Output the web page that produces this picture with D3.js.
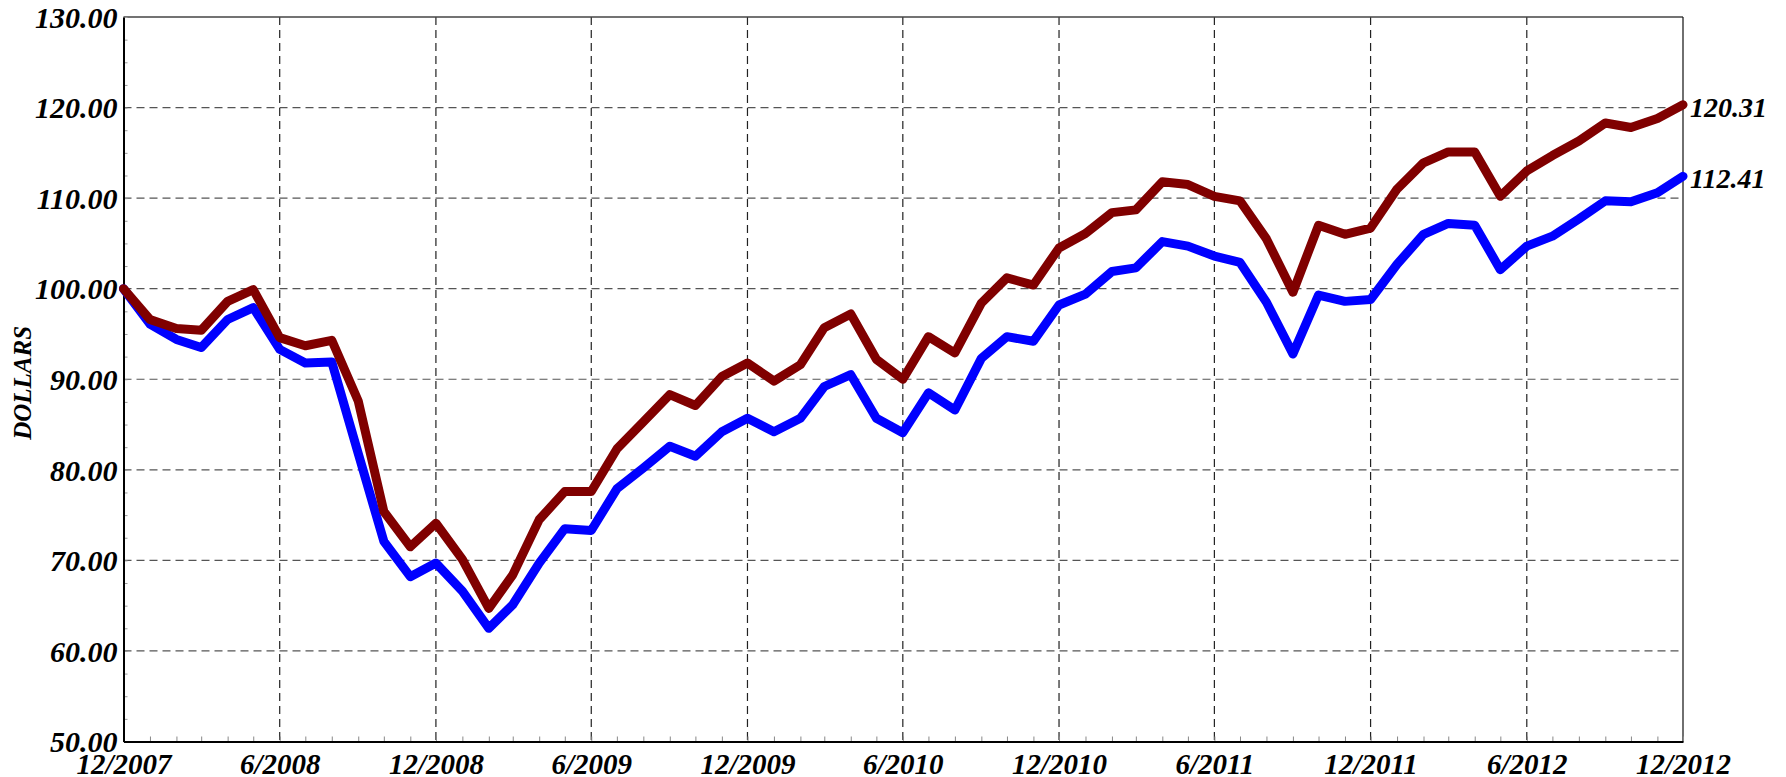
<!DOCTYPE html>
<html>
<head>
<meta charset="utf-8">
<script src="https://cdn.jsdelivr.net/npm/d3@7"></script>
<style>
  html, body { margin: 0; padding: 0; background: #fff; }
  svg { display: block; }
  text { font-family: "Liberation Serif", "Times New Roman", serif; font-weight: bold; font-style: italic; fill: #000; }
</style>
</head>
<body>
<div id="chart"></div>
<script>
// monthly values, 12/2007 .. 12/2012
const startMonth = "2007-12";
const redSeries = [
  100.0, 96.6, 95.6, 95.4, 98.6, 99.9, 94.6, 93.7, 94.3, 87.6,
  75.4, 71.5, 74.1, 70.1, 64.7, 68.4, 74.5, 77.6, 77.6, 82.3,
  85.3, 88.3, 87.1, 90.3, 91.8, 89.8, 91.6, 95.7, 97.2, 92.2,
  90.0, 94.7, 92.9, 98.4, 101.2, 100.4, 104.5, 106.1, 108.4, 108.7,
  111.8, 111.5, 110.2, 109.7, 105.5, 99.6, 107.0, 106.0, 106.7, 111.0,
  113.9, 115.1, 115.1, 110.2, 113.0, 114.7, 116.3, 118.3, 117.8, 118.8,
  120.31
];
const blueSeries = [
  100.0, 96.1, 94.4, 93.5, 96.6, 97.9, 93.3, 91.8, 91.9, 81.8,
  72.1, 68.2, 69.7, 66.6, 62.5, 65.1, 69.7, 73.5, 73.3, 77.9,
  80.2, 82.6, 81.5, 84.2, 85.7, 84.2, 85.7, 89.2, 90.5, 85.7,
  84.1, 88.5, 86.6, 92.3, 94.7, 94.2, 98.2, 99.4, 101.9, 102.3,
  105.2, 104.7, 103.6, 102.9, 98.5, 92.8, 99.3, 98.6, 98.8, 102.7,
  106.0, 107.2, 107.0, 102.1, 104.7, 105.8, 107.7, 109.7, 109.6, 110.6,
  112.41
];
const xTickLabels = ["12/2007", "6/2008", "12/2008", "6/2009", "12/2009", "6/2010",
  "12/2010", "6/2011", "12/2011", "6/2012", "12/2012"];
const yTicks = [50, 60, 70, 80, 90, 100, 110, 120, 130];
const yTitle = "DOLLARS";

const WIDTH = 1786, HEIGHT = 777;
const margin = { top: 17, right: 103, bottom: 35.5, left: 123.5 };
const innerW = WIDTH - margin.left - margin.right;
const innerH = HEIGHT - margin.top - margin.bottom;

const parseMonth = d3.timeParse("%Y-%m");
const parseLabel = d3.timeParse("%m/%Y");
const t0 = parseMonth(startMonth);
const dates = redSeries.map((d, i) => d3.timeMonth.offset(t0, i));
const tickDates = xTickLabels.map(parseLabel);

const svg = d3.select("#chart").append("svg")
  .attr("width", WIDTH)
  .attr("height", HEIGHT);

const g = svg.append("g").attr("transform", `translate(${margin.left},${margin.top})`);

const x = d3.scaleTime().domain([dates[0], dates[dates.length - 1]]).range([0, innerW]);
const y = d3.scaleLinear().domain([50, 130]).range([innerH, 0]);

// grid
g.append("g")
  .selectAll("line")
  .data(yTicks.slice(1, -1))
  .join("line")
  .attr("x1", 0).attr("x2", innerW)
  .attr("y1", d => y(d)).attr("y2", d => y(d))
  .attr("stroke", "#555").attr("stroke-width", 1.2)
  .attr("stroke-dasharray", "8,5");

g.append("g")
  .selectAll("line")
  .data(tickDates.slice(1, -1))
  .join("line")
  .attr("x1", d => x(d)).attr("x2", d => x(d))
  .attr("y1", 0).attr("y2", innerH)
  .attr("stroke", "#222").attr("stroke-width", 1.2)
  .attr("stroke-dasharray", "8,5");

// frame top/right
g.append("line").attr("x1", 0).attr("x2", innerW).attr("y1", 0).attr("y2", 0)
  .attr("stroke", "#444").attr("stroke-width", 1.3);
g.append("line").attr("x1", innerW).attr("x2", innerW).attr("y1", 0).attr("y2", innerH)
  .attr("stroke", "#222").attr("stroke-width", 1.3);

// minor ticks
const minorX = d3.timeMonth.range(dates[0], d3.timeMonth.offset(dates[dates.length - 1], 1));
g.append("g").attr("transform", `translate(0,${innerH})`)
  .call(d3.axisBottom(x).tickValues(minorX).tickSize(-5).tickFormat(""))
  .call(a => a.select(".domain").remove())
  .call(a => a.selectAll("line").attr("stroke", "#888"));

g.append("g")
  .call(d3.axisLeft(y).tickValues(d3.range(50, 130.1, 2.5)).tickSize(-4).tickFormat(""))
  .call(a => a.select(".domain").remove())
  .call(a => a.selectAll("line").attr("stroke", "#999"));

// axes
const yAxis = g.append("g")
  .call(d3.axisLeft(y).tickValues(yTicks).tickSize(0).tickPadding(6).tickFormat(d3.format(".2f")));
yAxis.select(".domain").attr("stroke", "#000").attr("stroke-width", 2);
yAxis.selectAll("text").attr("font-size", 30).attr("dy", "0.34em");

const xAxis = g.append("g").attr("transform", `translate(0,${innerH})`)
  .call(d3.axisBottom(x).tickValues(tickDates).tickSize(0)
    .tickFormat((d, i) => xTickLabels[i]));
xAxis.select(".domain").attr("stroke", "#000").attr("stroke-width", 2);
xAxis.selectAll("text").attr("font-size", 29).attr("dy", 0).attr("y", 32);

// y title
svg.append("text")
  .attr("transform", `translate(31,${margin.top + innerH * 0.505}) rotate(-90)`)
  .attr("text-anchor", "middle")
  .attr("font-size", 25)
  .text(yTitle);

// lines
const line = d3.line().x((d, i) => x(dates[i])).y(d => y(d));
const series = [
  { values: blueSeries, color: "#0000ff" },
  { values: redSeries, color: "#800000" }
];
g.selectAll(".series")
  .data(series)
  .join("path")
  .attr("class", "series")
  .attr("d", d => line(d.values))
  .attr("fill", "none")
  .attr("stroke", d => d.color)
  .attr("stroke-width", 9)
  .attr("stroke-linejoin", "round")
  .attr("stroke-linecap", "round");

// end labels
g.selectAll(".endlabel")
  .data(series)
  .join("text")
  .attr("class", "endlabel")
  .attr("x", innerW + 7)
  .attr("y", d => y(d.values[d.values.length - 1]))
  .attr("dy", "0.42em")
  .attr("font-size", 28)
  .text(d => d3.format(".2f")(d.values[d.values.length - 1]));
</script>
</body>
</html>
